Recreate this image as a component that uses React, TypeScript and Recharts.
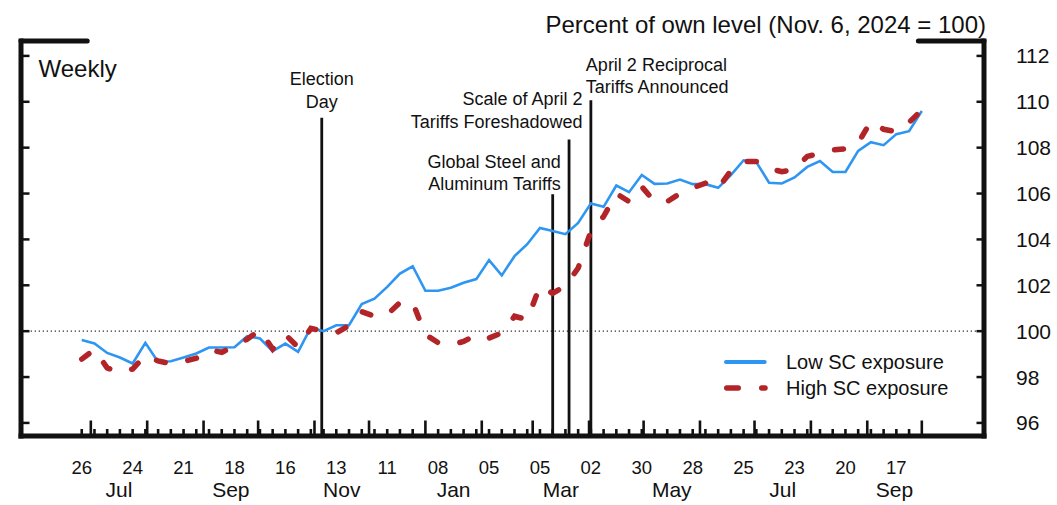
import { LineChart, Line, XAxis, YAxis, ReferenceLine, Legend } from 'recharts';

const FONT = '"Liberation Sans", Arial, Helvetica, sans-serif';
const BLUE = '#2E96F2';
const RED = '#B22427';
const INK = '#111111';

// weekly observations (Wednesdays)
const weeks = [
  '2024-06-26', '2024-07-03', '2024-07-10', '2024-07-17', '2024-07-24', '2024-07-31',
  '2024-08-07', '2024-08-14', '2024-08-21', '2024-08-28', '2024-09-04', '2024-09-11',
  '2024-09-18', '2024-09-25', '2024-10-02', '2024-10-09', '2024-10-16', '2024-10-23',
  '2024-10-30', '2024-11-06', '2024-11-13', '2024-11-20', '2024-11-27', '2024-12-04',
  '2024-12-11', '2024-12-18', '2024-12-25', '2025-01-01', '2025-01-08', '2025-01-15',
  '2025-01-22', '2025-01-29', '2025-02-05', '2025-02-12', '2025-02-19', '2025-02-26',
  '2025-03-05', '2025-03-12', '2025-03-19', '2025-03-26', '2025-04-02', '2025-04-09',
  '2025-04-16', '2025-04-23', '2025-04-30', '2025-05-07', '2025-05-14', '2025-05-21',
  '2025-05-28', '2025-06-04', '2025-06-11', '2025-06-18', '2025-06-25', '2025-07-02',
  '2025-07-09', '2025-07-16', '2025-07-23', '2025-07-30', '2025-08-06', '2025-08-13',
  '2025-08-20', '2025-08-27', '2025-09-03', '2025-09-10', '2025-09-17', '2025-09-24',
  '2025-10-01',
];

const lowExposure = [
  99.61, 99.46, 99.05, 98.85, 98.59, 99.49, 98.66, 98.69, 98.85, 99.03,
  99.29, 99.29, 99.3, 99.78, 99.68, 99.13, 99.46, 99.1, 100.16, 100.0,
  100.26, 100.26, 101.18, 101.42, 101.93, 102.51, 102.83, 101.76, 101.76, 101.89,
  102.11, 102.27, 103.1, 102.43, 103.27, 103.79, 104.5, 104.37, 104.23, 104.72,
  105.57, 105.42, 106.35, 106.06, 106.81, 106.42, 106.44, 106.61, 106.41, 106.41,
  106.25, 106.8, 107.45, 107.37, 106.47, 106.44, 106.7, 107.16, 107.42, 106.94,
  106.94, 107.86, 108.24, 108.11, 108.59, 108.72, 109.6,
];

const highExposure = [
  98.78, 99.2, 98.4, 98.2, 98.35, 98.95, 98.7, 98.58, 98.68, 98.82,
  99.18, 99.08, 99.35, 99.65, 100.05, 99.22, 99.85, 99.3, 100.12, 100.0,
  99.92, 100.25, 100.85, 100.65, 100.72, 101.25, 101.25, 99.85, 99.5, 99.4,
  99.55, 99.85, 99.7, 99.92, 100.65, 100.5, 101.97, 101.65, 101.98, 102.75,
  104.35, 105.0, 106.0, 105.65, 106.3, 105.65, 105.65, 106.0, 106.25, 106.45,
  106.22, 107.0, 107.4, 107.4, 107.1, 106.95, 107.05, 107.62, 107.75, 107.9,
  107.95, 108.2, 109.15, 108.8, 108.7, 109.1, 109.65,
];

const seriesNames = ['Low SC exposure', 'High SC exposure'];

const monthStarts = [
  '2024-07-01', '2024-08-01', '2024-09-01', '2024-10-01', '2024-11-01', '2024-12-01',
  '2025-01-01', '2025-02-01', '2025-03-01', '2025-04-01', '2025-05-01', '2025-06-01',
  '2025-07-01', '2025-08-01', '2025-09-01', '2025-10-01',
];
const labelledMonths = ['2024-07', '2024-09', '2024-11', '2025-01', '2025-03', '2025-05', '2025-07', '2025-09'];
const monthNames = ['Jul', 'Sep', 'Nov', 'Jan', 'Mar', 'May', 'Jul', 'Sep'];

const yTicks = [96, 98, 100, 102, 104, 106, 108, 110, 112];

const eventDates = ['2024-11-05', '2025-03-12', '2025-03-21', '2025-04-02'];
const eventTops = [109.3, 105.97, 108.36, 110.07];
const eventLabels = [
  ['Election', 'Day'],
  ['Global Steel and', 'Aluminum Tariffs'],
  ['Scale of April 2', 'Tariffs Foreshadowed'],
  ['April 2 Reciprocal', 'Tariffs Announced'],
];

// label placement relative to the top of each event line
const eventLabelStyle = [
  { anchor: 'middle', dx: 0, dy: -32.5 },
  { anchor: 'end', dx: 8, dy: -26.7 },
  { anchor: 'end', dx: 13.5, dy: -34.3 },
  { anchor: 'start', dx: -5, dy: -29.3 },
];

const DAY_MS = 86400000;
const ORIGIN = Date.UTC(2024, 5, 26);
const toDay = (s: string) => {
  const [y, m, d] = s.split('-').map(Number);
  return (Date.UTC(y, m - 1, d || 1) - ORIGIN) / DAY_MS;
};

const X_DOMAIN = [-33.4, 496.2];
const Y_DOMAIN = [95.43, 112.65];
const FRAME_LEFT_END = 3;
const FRAME_RIGHT_START = 460.1;
const PLOT_LEFT = 21;

const data = weeks.map((w, i) => ({ t: toDay(w), low: lowExposure[i], high: highExposure[i] }));

const weekIndex = new Map<number, number>(weeks.map((w, i) => [toDay(w), i]));
const monthStartDays = monthStarts.map(toDay);
const monthMid = new Map<number, string>(
  labelledMonths.map((m, i) => {
    const [y, mo] = m.split('-').map(Number);
    const start = (Date.UTC(y, mo - 1, 1) - ORIGIN) / DAY_MS;
    const end = (Date.UTC(y, mo, 1) - ORIGIN) / DAY_MS;
    return [(start + end) / 2, monthNames[i]];
  }),
);
const xTicks = Array.from(new Set([...weekIndex.keys(), ...monthStartDays, ...monthMid.keys()])).sort((a, b) => a - b);

function XTick(props: any) {
  const { x, y, payload } = props;
  const v = payload.value;
  const week = weekIndex.get(v);
  const isMonth = monthStartDays.includes(v);
  const month = monthMid.get(v);
  return (
    <g>
      {(isMonth || week !== undefined) && (
        <line x1={x} x2={x} y1={y} y2={y - (isMonth ? 15.5 : 7)} stroke={INK} strokeWidth={2.6} />
      )}
      {week !== undefined && week % 4 === 0 && (
        <text x={x} y={y + 37.5} textAnchor="middle" fontSize={18.5} fill={INK} fontFamily={FONT}>
          {weeks[week].slice(8)}
        </text>
      )}
      {month && (
        <text x={x} y={y + 61} textAnchor="middle" fontSize={21} fill={INK} fontFamily={FONT}>
          {month}
        </text>
      )}
    </g>
  );
}

function YTick(props: any) {
  const { x, y, payload } = props;
  return (
    <g>
      <line x1={x - 7.5} x2={x} y1={y} y2={y} stroke={INK} strokeWidth={2.5} />
      <line x1={PLOT_LEFT} x2={PLOT_LEFT + 8.5} y1={y} y2={y} stroke={INK} strokeWidth={2.5} />
      <text x={x + 32} y={y} dy="0.36em" fontSize={21} fill={INK} fontFamily={FONT}>
        {payload.value}
      </text>
    </g>
  );
}

function EventLabel({ viewBox, lines, anchor, dx, dy }: any) {
  if (!viewBox) return null;
  const x = viewBox.x + dx;
  return (
    <text x={x} y={viewBox.y + dy} textAnchor={anchor} fontSize={18} fill={INK} fontFamily={FONT}>
      {lines.map((l: string, i: number) => (
        <tspan key={l} x={x} dy={i === 0 ? 0 : 22.6}>
          {l}
        </tspan>
      ))}
    </text>
  );
}

function LegendBox() {
  return (
    <div style={{ fontFamily: FONT, fontSize: 20, color: INK }}>
      {seriesNames.map((name, i) => (
        <div key={name} style={{ display: 'flex', alignItems: 'center', height: 26, lineHeight: '26px' }}>
          <svg width={65} height={26} style={{ flex: 'none' }}>
            {i === 0 ? (
              <line x1={5} x2={43.7} y1={13} y2={13} stroke={BLUE} strokeWidth={4} strokeLinecap="round" />
            ) : (
              <line x1={5.75} x2={44} y1={13} y2={13} stroke={RED} strokeWidth={5.5} strokeLinecap="round" strokeDasharray="11.5 23.5" />
            )}
          </svg>
          <span style={{ whiteSpace: 'nowrap' }}>{name}</span>
        </div>
      ))}
    </div>
  );
}

export default function App() {
  return (
    <div style={{ position: 'absolute', left: 0, top: 0, width: 1057, height: 505, background: '#fff', fontFamily: FONT }}>
      <LineChart width={1057} height={505} data={data} margin={{ top: 41, right: 0, bottom: 0, left: PLOT_LEFT }}>
        <XAxis
          dataKey="t"
          type="number"
          domain={X_DOMAIN}
          allowDataOverflow
          ticks={xTicks}
          interval={0}
          height={69}
          tickSize={0}
          tickMargin={0}
          tickLine={false}
          tick={<XTick />}
          axisLine={{ stroke: INK, strokeWidth: 5, strokeLinecap: 'square' }}
        />
        <YAxis
          orientation="right"
          type="number"
          domain={Y_DOMAIN}
          allowDataOverflow
          ticks={yTicks}
          interval={0}
          width={73}
          tickSize={0}
          tickMargin={0}
          tickLine={false}
          tick={<YTick />}
          axisLine={{ stroke: INK, strokeWidth: 5, strokeLinecap: 'square' }}
        />
        <ReferenceLine y={100} stroke="#333" strokeWidth={1.3} strokeDasharray="1.3 2.7" />
        <ReferenceLine x={X_DOMAIN[0]} stroke={INK} strokeWidth={5} strokeLinecap="square" />
        <ReferenceLine
          segment={[{ x: X_DOMAIN[0], y: Y_DOMAIN[1] }, { x: FRAME_LEFT_END, y: Y_DOMAIN[1] }]}
          stroke={INK}
          strokeWidth={5}
          strokeLinecap="round"
        />
        <ReferenceLine
          segment={[{ x: FRAME_RIGHT_START, y: Y_DOMAIN[1] }, { x: X_DOMAIN[1], y: Y_DOMAIN[1] }]}
          stroke={INK}
          strokeWidth={5}
          strokeLinecap="round"
        />
        {eventDates.map((d, i) => (
          <ReferenceLine
            key={d}
            segment={[{ x: toDay(d), y: Y_DOMAIN[0] }, { x: toDay(d), y: eventTops[i] }]}
            stroke={INK}
            strokeWidth={2.8}
            label={(p: any) => <EventLabel viewBox={p.viewBox} lines={eventLabels[i]} {...eventLabelStyle[i]} />}
          />
        ))}
        <Line
          dataKey="low"
          name={seriesNames[0]}
          type="linear"
          stroke={BLUE}
          strokeWidth={2.6}
          dot={false}
          activeDot={false}
          isAnimationActive={false}
        />
        <Line
          dataKey="high"
          name={seriesNames[1]}
          type="linear"
          stroke={RED}
          strokeWidth={5.5}
          strokeDasharray="9 23"
          strokeLinecap="round"
          dot={false}
          activeDot={false}
          isAnimationActive={false}
        />
        <Legend
          layout="vertical"
          align="center"
          verticalAlign="middle"
          wrapperStyle={{ left: 721, top: 349, width: 260 }}
          content={() => <LegendBox />}
        />
      </LineChart>
      <svg width={1057} height={505} style={{ position: 'absolute', left: 0, top: 0, pointerEvents: 'none' }}>
        <text x={986} y={32.5} textAnchor="end" fontSize={24} fill={INK} fontFamily={FONT}>
          Percent of own level (Nov. 6, 2024 = 100)
        </text>
        <text x={38.5} y={76.5} fontSize={24} fill={INK} fontFamily={FONT}>
          Weekly
        </text>
      </svg>
    </div>
  );
}
